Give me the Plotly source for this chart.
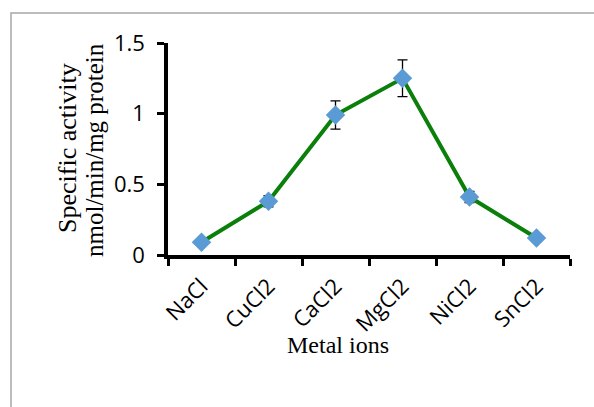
import plotly.graph_objects as go

categories = ["NaCl", "CuCl2", "CaCl2", "MgCl2", "NiCl2", "SnCl2"]
activity = [0.09, 0.38, 0.99, 1.25, 0.41, 0.12]
errors = [0.0, 0.04, 0.10, 0.13, 0.04, 0.0]
y_ticks = [0, 0.5, 1, 1.5]
y_tick_labels = ["0", "0.5", "1", "1.5"]
y_title_lines = ["Specific activity", "nmol/min/mg protein"]
x_title = "Metal ions"

fig = go.Figure()
fig.add_trace(go.Scatter(
    x=categories, y=activity,
    mode="lines+markers",
    line=dict(color="#0A7F0A", width=4),
    marker=dict(symbol="diamond", size=15, color="#5B9BD5"),
    error_y=dict(type="data", array=errors, visible=True, color="black", thickness=1.3, width=5),
    showlegend=False,
))

L, R, T, B = 168, 570, 43, 255
W, H = 594, 407
pw, ph = R - L, B - T

def px(x):
    return (x - L) / pw

def py(y):
    return (B - y) / ph

serif = "Liberation Serif, Times New Roman, serif"
sans = "Open Sans, Noto Sans, sans-serif"

fig.update_layout(
    width=W, height=H,
    margin=dict(l=L, r=W - R, t=T, b=H - B),
    paper_bgcolor="white", plot_bgcolor="white",
    xaxis=dict(
        type="category", tickson="boundaries", ticks="outside", ticklen=7, tickwidth=3,
        tickcolor="black", showline=True, linecolor="black", linewidth=3.5,
        tickangle=-45, ticklabelstandoff=6,
        tickfont=dict(family=sans, size=22, color="black"),
        showgrid=False, zeroline=False, range=[-0.5, 5.5],
    ),
    yaxis=dict(
        range=[0, 1.5], tickvals=y_ticks, ticktext=y_tick_labels, ticks="outside", ticklen=7,
        tickwidth=3, tickcolor="black", showline=True, linecolor="black", linewidth=3.5,
        ticklabelstandoff=8,
        tickfont=dict(family=sans, size=22, color="black"),
        showgrid=False, zeroline=False,
    ),
    shapes=[dict(type="rect", xref="paper", yref="paper",
                 x0=px(11), x1=px(610), y0=py(425), y1=py(13),
                 line=dict(color="#A6A6A6", width=1.5), fillcolor="rgba(0,0,0,0)", layer="below")],
    annotations=[
        dict(text=y_title_lines[0], xref="paper", yref="paper",
             x=px(67), y=py(148), textangle=-90, showarrow=False, xanchor="center", yanchor="middle",
             font=dict(family=serif, size=26, color="black")),
        dict(text=y_title_lines[1], xref="paper", yref="paper",
             x=px(94), y=py(150), textangle=-90, showarrow=False, xanchor="center", yanchor="middle",
             font=dict(family=serif, size=25, color="black")),
        dict(text=x_title, xref="paper", yref="paper", x=px(338), y=py(345), showarrow=False,
             xanchor="center", yanchor="middle",
             font=dict(family=serif, size=24, color="black")),
    ],
)

fig.write_html("out.html")
